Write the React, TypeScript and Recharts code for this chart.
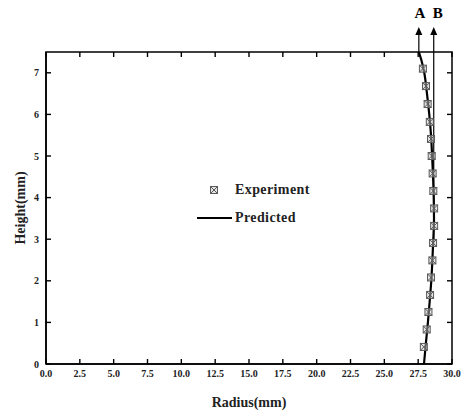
import React from "react";
import {
  ComposedChart,
  Scatter,
  XAxis,
  YAxis,
  Legend,
  ReferenceLine,
  ReferenceArea,
} from "recharts";

// measured profile: height (mm) vs radius (mm)
const expHeight = [7.1, 6.68, 6.25, 5.82, 5.41, 5.0, 4.58, 4.16, 3.74, 3.32, 2.91, 2.49, 2.08, 1.66, 1.25, 0.83, 0.41];
const expRadius = [27.85, 28.08, 28.2, 28.36, 28.45, 28.5, 28.57, 28.62, 28.68, 28.68, 28.6, 28.55, 28.45, 28.38, 28.26, 28.13, 27.92];

// model curve
const predHeight = [7.5, 7.3, 7.0, 6.5, 6.0, 5.5, 5.0, 4.5, 4.0, 3.5, 3.0, 2.5, 2.0, 1.5, 1.0, 0.5, 0];
const predRadius = [27.55, 27.74, 27.95, 28.15, 28.32, 28.45, 28.53, 28.6, 28.65, 28.67, 28.62, 28.55, 28.47, 28.35, 28.22, 28.07, 27.93];

const xTicks = [0, 2.5, 5, 7.5, 10, 12.5, 15, 17.5, 20, 22.5, 25, 27.5, 30];
const yTicks = [0, 1, 2, 3, 4, 5, 6, 7];

// vertical markers A and B drawn above the frame
const markA = { x: 27.55, from: 7.5, to: 8.1 };
const markB = { x: 28.65, from: 3.0, to: 8.1 };

const experiment = expHeight.map((h, i) => ({ h, r: expRadius[i] }));
const predicted = predHeight.map((h, i) => ({ h, r: predRadius[i] }));

const FONT = '"Liberation Serif", "Times New Roman", serif';
const tickFont = { fontSize: 10, fontWeight: "bold", fontFamily: FONT, fill: "#222" };
const tickStroke = { stroke: "#000", strokeWidth: 1.4 };

const CrossBox = (props: any) => {
  const { cx, cy } = props;
  const s = 3.5;
  return (
    <g stroke="#5a5a5a" strokeWidth={1} fill="#ccc" fillOpacity={0.5}>
      <rect x={cx - s} y={cy - s} width={s * 2} height={s * 2} />
      <line x1={cx - s} y1={cy - s} x2={cx + s} y2={cy + s} />
      <line x1={cx - s} y1={cy + s} x2={cx + s} y2={cy - s} />
    </g>
  );
};

const arrowShape = (label: string, dx: number) => (p: any) => {
  const x = p.x1;
  const top = Math.min(p.y1, p.y2);
  const bottom = Math.max(p.y1, p.y2);
  return (
    <g>
      <line x1={x} y1={top + 6} x2={x} y2={bottom} stroke="#000" strokeWidth={1.2} />
      <polygon points={`${x},${top} ${x - 3.5},${top + 8} ${x + 3.5},${top + 8}`} fill="#000" />
      <text x={x + dx} y={top - 9} textAnchor="middle" fontSize={15} fontWeight="bold" fontFamily={FONT} fill="#000">
        {label}
      </text>
    </g>
  );
};

const LegendBox = () => (
  <div style={{ fontFamily: FONT, fontWeight: "bold", fontSize: 14, color: "#222" }}>
    <div style={{ display: "flex", alignItems: "center", height: 28 }}>
      <svg width={40} height={12}>
        <CrossBox cx={19} cy={6} />
      </svg>
      <span style={{ letterSpacing: 0.4 }}>Experiment</span>
    </div>
    <div style={{ display: "flex", alignItems: "center", height: 28 }}>
      <svg width={40} height={12}>
        <line x1={2} y1={6} x2={37} y2={6} stroke="#000" strokeWidth={2} />
      </svg>
      <span style={{ letterSpacing: 0.4 }}>Predicted</span>
    </div>
  </div>
);

export default function App() {
  return (
    <div style={{ position: "absolute", left: 0, top: 0, background: "#fff" }}>
      <ComposedChart width={465} height={412} margin={{ top: 51, right: 12, bottom: 0, left: 0 }}>
        {/* ticks on all four sides point into the plot */}
        <XAxis
          type="number"
          dataKey="r"
          domain={[0, 30]}
          ticks={xTicks}
          interval={0}
          allowDataOverflow
          height={48}
          tickSize={-5}
          tickMargin={11}
          tickLine={tickStroke}
          axisLine={{ stroke: "#000", strokeWidth: 1.5 }}
          tick={tickFont}
          tickFormatter={(v: number) => v.toFixed(1)}
          label={{
            value: "Radius(mm)",
            position: "insideBottom",
            offset: 5,
            fontSize: 14,
            fontWeight: "bold",
            fontFamily: FONT,
            fill: "#222",
          }}
        />
        <XAxis
          xAxisId="top"
          orientation="top"
          type="number"
          dataKey="r"
          domain={[0, 30]}
          ticks={xTicks}
          interval={0}
          allowDataOverflow
          height={1}
          tickSize={-5}
          tickMargin={0}
          tickLine={tickStroke}
          axisLine={false}
          tick={tickFont}
          tickFormatter={() => ""}
        />
        <YAxis
          type="number"
          dataKey="h"
          domain={[0, 7.5]}
          ticks={yTicks}
          interval={0}
          allowDataOverflow
          width={46}
          tickSize={-5}
          tickMargin={12}
          tickLine={tickStroke}
          axisLine={{ stroke: "#000", strokeWidth: 1.5 }}
          tick={tickFont}
          label={{
            value: "Height(mm)",
            angle: -90,
            position: "insideLeft",
            offset: 20,
            style: { textAnchor: "middle" },
            fontSize: 14,
            fontWeight: "bold",
            fontFamily: FONT,
            fill: "#222",
          }}
        />
        <YAxis
          yAxisId="right"
          orientation="right"
          type="number"
          dataKey="h"
          domain={[0, 7.5]}
          ticks={yTicks}
          interval={0}
          allowDataOverflow
          width={1}
          tickSize={-5}
          tickMargin={0}
          tickLine={tickStroke}
          axisLine={false}
          tick={tickFont}
          tickFormatter={() => ""}
        />
        {/* closed frame around the plot */}
        <ReferenceArea
          x1={0}
          x2={30}
          y1={0}
          y2={7.5}
          fill="none"
          fillOpacity={0}
          stroke="#000"
          strokeWidth={1.5}
          ifOverflow="visible"
        />
        <Legend
          layout="vertical"
          align="center"
          verticalAlign="middle"
          wrapperStyle={{ left: 195, top: 176, width: 140 }}
          content={<LegendBox />}
        />
        <ReferenceLine
          segment={[
            { x: markA.x, y: markA.from },
            { x: markA.x, y: markA.to },
          ]}
          ifOverflow="visible"
          shape={arrowShape("A", 1)}
        />
        <ReferenceLine
          segment={[
            { x: markB.x, y: markB.from },
            { x: markB.x, y: markB.to },
          ]}
          ifOverflow="visible"
          shape={arrowShape("B", 4)}
        />
        <Scatter
          name="Predicted"
          data={predicted}
          line={{ stroke: "#000", strokeWidth: 2.2 }}
          lineJointType="monotoneY"
          shape={() => <g />}
          isAnimationActive={false}
        />
        <Scatter
          name="Experiment"
          data={experiment}
          shape={<CrossBox />}
          isAnimationActive={false}
        />
        {/* empty series keeps the mirrored frame axes in use */}
        <Scatter
          xAxisId="top"
          yAxisId="right"
          data={experiment}
          shape={() => <g />}
          legendType="none"
          isAnimationActive={false}
        />
      </ComposedChart>
    </div>
  );
}
